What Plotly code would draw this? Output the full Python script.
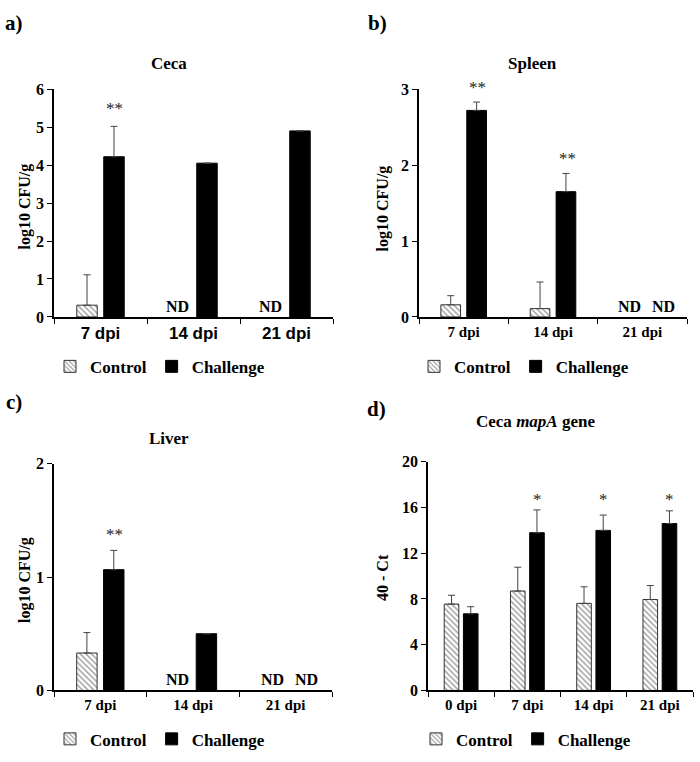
import plotly.graph_objects as go

# ---------------- data ----------------
cats_abc = ["7 dpi", "14 dpi", "21 dpi"]
cats_d = ["0 dpi", "7 dpi", "14 dpi", "21 dpi"]

a_control = [0.31, None, None]
a_control_err = [0.80, None, None]
a_challenge = [4.22, 4.05, 4.90]
a_challenge_err = [0.80, None, None]
a_stars = ["**", "", ""]
a_star_y = [5.6, None, None]

b_control = [0.16, 0.11, None]
b_control_err = [0.12, 0.35, None]
b_challenge = [2.72, 1.65, None]
b_challenge_err = [0.11, 0.24, None]
b_stars = ["**", "**", ""]
b_star_y = [3.07, 2.14, None]

c_control = [0.33, None, None]
c_control_err = [0.18, None, None]
c_challenge = [1.065, 0.50, None]
c_challenge_err = [0.17, None, None]
c_stars = ["**", "", ""]
c_star_y = [1.41, None, None]

d_control = [7.55, 8.69, 7.61, 7.95]
d_control_err = [0.77, 2.08, 1.45, 1.22]
d_challenge = [6.70, 13.79, 13.99, 14.59]
d_challenge_err = [0.62, 1.99, 1.34, 1.11]
d_stars = ["", "*", "*", "*"]
d_star_y = [None, 17.0, 17.0, 17.0]

titles = ["Ceca", "Spleen", "Liver", "Ceca <i>mapA</i> gene"]
panel_labels = ["a)", "b)", "c)", "d)"]
y_titles = ["log10 CFU/g", "log10 CFU/g", "log10 CFU/g", "40 - Ct"]
y_ranges = [[0, 6], [0, 3], [0, 2], [0, 20]]
y_dticks = [1, 1, 1, 4]

# ---------------- layout geometry (px) ----------------
W, H = 700, 762
SERIF = "Liberation Serif"
SANS = "Liberation Sans"

def px_x(v):
    return v / W

def px_y(v):
    return (H - v) / H

panels = [
    dict(x0=54, x1=333, y0=316, y1=83, cats=cats_abc, ctl=a_control, ctle=a_control_err,
         chl=a_challenge, chle=a_challenge_err, stars=a_stars, stary=a_star_y,
         xfont=dict(family=SANS, size=17, color="black", weight="bold"),
         title_xy=(169, 57), label_xy=(14, 15), ytitle_xy=(25, 203), legend_xy=(160, 367)),
    dict(x0=419, x1=687, y0=316, y1=83, cats=cats_abc, ctl=b_control, ctle=b_control_err,
         chl=b_challenge, chle=b_challenge_err, stars=b_stars, stary=b_star_y,
         xfont=dict(family=SERIF, size=15, color="black", weight="bold"),
         title_xy=(532, 57), label_xy=(377, 15), ytitle_xy=(383, 205), legend_xy=(524, 367)),
    dict(x0=54, x1=332, y0=698, y1=466, cats=cats_abc, ctl=c_control, ctle=c_control_err,
         chl=c_challenge, chle=c_challenge_err, stars=c_stars, stary=c_star_y,
         xfont=dict(family=SERIF, size=15, color="black", weight="bold"),
         title_xy=(169, 440), label_xy=(14, 403), ytitle_xy=(25, 585), legend_xy=(160, 748)),
    dict(x0=428, x1=693, y0=698, y1=464, cats=cats_d, ctl=d_control, ctle=d_control_err,
         chl=d_challenge, chle=d_challenge_err, stars=d_stars, stary=d_star_y,
         xfont=dict(family=SERIF, size=15, color="black", weight="bold"),
         title_xy=(535, 423), label_xy=(376, 410), ytitle_xy=(383, 583), legend_xy=(526, 748)),
]

fig = go.Figure()
annotations = []
layout = dict(
    width=W, height=H, margin=dict(l=0, r=0, t=0, b=0),
    paper_bgcolor="white", plot_bgcolor="white",
    barmode="group", bargap=0.42, bargroupgap=0.24,
    showlegend=True,
)

for i, p in enumerate(panels):
    n = i + 1
    sfx = "" if n == 1 else str(n)
    xa, ya = "x" + sfx, "y" + sfx
    leg = "legend" + sfx

    fig.add_trace(go.Bar(
        x=p["cats"], y=p["ctl"], name="Control", xaxis=xa, yaxis=ya, legend=leg,
        marker=dict(color="white", line=dict(color="#333333", width=1),
                    pattern=dict(shape="\\", fgcolor="#333333", bgcolor="white", size=4, solidity=0.35)),
        error_y=dict(type="data", symmetric=False, array=p["ctle"],
                     arrayminus=[0 if v is not None else None for v in p["ctle"]],
                     color="#444444", thickness=1, width=3.5),
    ))
    fig.add_trace(go.Bar(
        x=p["cats"], y=p["chl"], name="Challenge", xaxis=xa, yaxis=ya, legend=leg,
        marker=dict(color="black", line=dict(color="black", width=1)),
        error_y=dict(type="data", symmetric=False, array=p["chle"],
                     arrayminus=[0 if v is not None else None for v in p["chle"]],
                     color="#444444", thickness=1, width=3.5),
    ))

    layout["xaxis" + sfx] = dict(
        domain=[px_x(p["x0"]), px_x(p["x1"])], anchor=ya,
        type="category", categoryorder="array", categoryarray=p["cats"],
        range=[-0.5, len(p["cats"]) - 0.5],
        showline=True, linecolor="black", linewidth=1.5,
        ticks="outside", tickson="boundaries", ticklen=5, tickwidth=1.2, tickcolor="black",
        tickfont=p["xfont"], showgrid=False, zeroline=False, fixedrange=True,
    )
    layout["yaxis" + sfx] = dict(
        domain=[px_y(p["y0"]), px_y(p["y1"])], anchor=xa,
        range=y_ranges[i], dtick=y_dticks[i], tick0=0,
        showline=True, linecolor="black", linewidth=1.5,
        ticks="outside", ticklen=5, tickwidth=1.2, tickcolor="black",
        tickfont=dict(family=SERIF, size=16, color="black", weight="bold"),
        showgrid=False, zeroline=False, fixedrange=True,
    )
    layout[leg] = dict(
        orientation="h", x=px_x(p["legend_xy"][0]), y=px_y(p["legend_xy"][1]),
        xanchor="center", yanchor="middle",
        font=dict(family=SERIF, size=17, color="black", weight="bold"),
        bgcolor="rgba(0,0,0,0)", itemwidth=30, tracegroupgap=0,
    )

    # titles, panel labels, y titles
    annotations.append(dict(
        text="<b>" + titles[i] + "</b>", x=px_x(p["title_xy"][0]), y=px_y(p["title_xy"][1]),
        xref="paper", yref="paper", showarrow=False, xanchor="center", yanchor="middle",
        font=dict(family=SERIF, size=17, color="black")))
    annotations.append(dict(
        text="<b>" + panel_labels[i] + "</b>", x=px_x(p["label_xy"][0]), y=px_y(p["label_xy"][1]),
        xref="paper", yref="paper", showarrow=False, xanchor="center", yanchor="middle",
        font=dict(family=SERIF, size=21, color="black")))
    annotations.append(dict(
        text="<b>" + y_titles[i] + "</b>", x=px_x(p["ytitle_xy"][0]), y=px_y(p["ytitle_xy"][1]),
        xref="paper", yref="paper", showarrow=False, xanchor="center", yanchor="middle",
        textangle=-90, font=dict(family=SERIF, size=16, color="black")))

    # ND labels and stars
    ymin, ymax = y_ranges[i]
    for j, cat in enumerate(p["cats"]):
        both_nd = p["ctl"][j] is None and p["chl"][j] is None
        if p["ctl"][j] is None:
            annotations.append(dict(
                text="<b>ND</b>", x=cat, y=0, xref=xa, yref=ya, showarrow=False,
                xanchor="center", yanchor="bottom", xshift=-13 if both_nd else -16, yshift=0,
                font=dict(family=SERIF, size=16, color="black")))
        if p["chl"][j] is None:
            annotations.append(dict(
                text="<b>ND</b>", x=cat, y=0, xref=xa, yref=ya, showarrow=False,
                xanchor="center", yanchor="bottom", xshift=21, yshift=0,
                font=dict(family=SERIF, size=16, color="black")))
        if p["stars"][j]:
            # convert the star height (data units) to paper units of this panel
            frac = (p["stary"][j] - ymin) / (ymax - ymin)
            star_px = p["y0"] - frac * (p["y0"] - p["y1"])
            annotations.append(dict(
                text=p["stars"][j], x=cat, y=px_y(star_px + 4), xref=xa, yref="paper",
                showarrow=False, xanchor="center", yanchor="middle",
                xshift=14 if i < 3 else 10,
                font=dict(family=SERIF, size=17, color="#222222")))

layout["annotations"] = annotations
fig.update_layout(**layout)
fig.write_html("out.html", config={"displayModeBar": False},
               post_script="document.body.style.margin='0';document.body.style.padding='0';")
